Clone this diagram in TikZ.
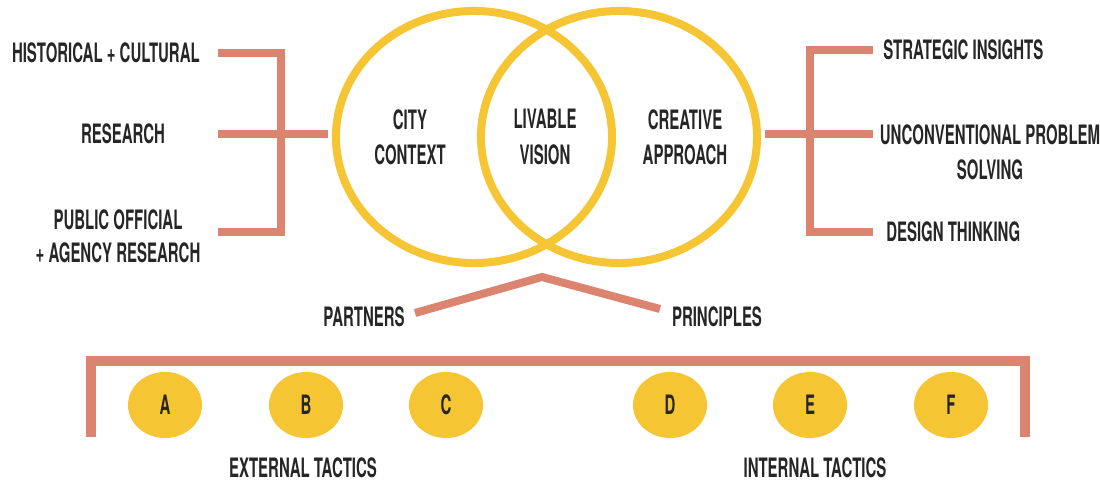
\documentclass[tikz,border=0pt]{standalone}
\usepackage{fontspec}
\setmainfont{TeX Gyre Heros}[FakeStretch=0.56]
\usepackage{tikz}
\usetikzlibrary{shapes.geometric}

\definecolor{sun}{HTML}{F5C533}
\definecolor{clay}{HTML}{DB8571}
\definecolor{ink}{HTML}{262626}

\begin{document}
\begin{tikzpicture}[x=0.025cm,y=-0.025cm,
	every node/.style={font=\bfseries\fontsize{19}{25}\selectfont,text=ink,align=center,inner sep=0pt},
	venn/.style={draw=sun,line width=5.7pt,ellipse,minimum width=6.9cm,minimum height=6.3cm},
	tactic/.style={ellipse,fill=sun,minimum width=1.85cm,minimum height=1.65cm},
	bar/.style={draw=clay,line width=5.7pt,line join=miter},
	base/.style={draw=clay,line width=7pt,line join=miter}]
\useasboundingbox (0,0) rectangle (1100,484);

%venn
\node[venn] (city) at (474,137) {};
\node[venn] (approach) at (619,137) {};
\node (citytxt) at (410,137) {CITY\\CONTEXT};
\node (vision) at (545,137) {LIVABLE\\VISION};
\node (creative) at (685,137) {CREATIVE\\APPROACH};

%left labels
\node[anchor=east] (hist) at (200,53) {HISTORICAL + CULTURAL};
\node (research) at (123,134) {RESEARCH};
\node[font=\bfseries\fontsize{19}{23.5}\selectfont] (public) at (118,236) {PUBLIC OFFICIAL\\+ AGENCY RESEARCH};

%right labels
\node[anchor=west] (insight) at (883,50) {STRATEGIC INSIGHTS};
\node (problem) at (990,152) {UNCONVENTIONAL PROBLEM\\SOLVING};
\node[anchor=west] (design) at (886,232) {DESIGN THINKING};

%left bracket
\coordinate (l1) at (218,53);
\coordinate (l2) at (218,134);
\coordinate (l3) at (218,232);
\coordinate (lv) at (281,134);
\draw[bar] (l1) -| (lv) |- (l3);
\draw[bar,shorten >=2.8pt] (l2) -- (l2 -| city.west);

%right bracket
\coordinate (r1) at (873,50);
\coordinate (r2) at (873,134);
\coordinate (r3) at (873,232);
\coordinate (rv) at (810,134);
\draw[bar] (r1) -| (rv) |- (r3);
\draw[bar,shorten <=2.8pt] (r2 -| approach.east) -- (r2);

%partners + principles
\node (partners) at (364,317) {PARTNERS};
\node (principles) at (717,317) {PRINCIPLES};
\coordinate (apex) at (542,277);
\coordinate (pa) at (415,313);
\coordinate (pr) at (660,309);
\draw[bar] (pa) -- (apex) -- (pr);

%tactics
\coordinate (b1) at (91,437);
\coordinate (b2) at (1025,437);
\draw[base] (b1) |- (1025,361) -- (b2);
\foreach \l/\x in {A/165,B/306,C/446,D/670,E/810,F/951}
	\node[tactic] (\l) at (\x,405) {\l};
\node (external) at (303,468) {EXTERNAL TACTICS};
\node (internal) at (815,468) {INTERNAL TACTICS};
\end{tikzpicture}
\end{document}
